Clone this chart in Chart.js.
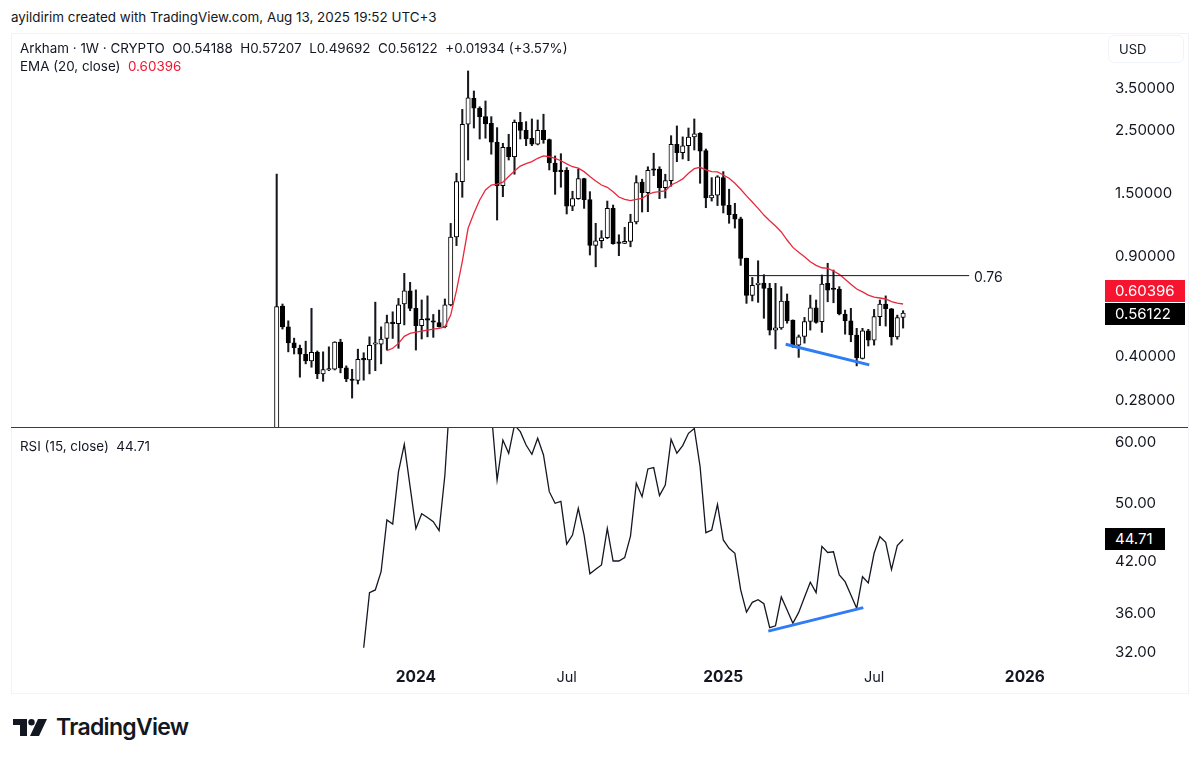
<!DOCTYPE html>
<html>
<head>
<meta charset="utf-8">
<title>Arkham 1W</title>
<script src="https://cdn.jsdelivr.net/npm/chart.js@4"></script>
<style>
  html, body { margin:0; padding:0; background:#fff; }
  body { width:1200px; height:761px; position:relative; overflow:hidden; font-family:Inter, sans-serif; color:#131722; }
  .abs { position:absolute; white-space:pre; }
  canvas { position:absolute; left:11px; }
  #panel { position:absolute; left:11px; top:33px; width:1176px; height:659px; border:1px solid #f0f3fa; box-sizing:content-box; }
  #sep { position:absolute; left:11px; top:427px; width:1177px; height:1px; background:#3a3d45; z-index:3; }
  #usd { position:absolute; left:1108px; top:35px; width:76px; height:28px; border:1px solid #f0f3fa; border-radius:6px; box-sizing:border-box; font-size:13px; line-height:27px; padding-left:10px; }
  .tag { position:absolute; left:1105px; width:80px; height:22px; line-height:22px; color:#fff; font-size:15px; padding-left:10px; box-sizing:border-box; }
</style>
</head>
<body>
<div id="panel"></div>
<canvas id="priceChart" width="1177" height="393" style="top:34px"></canvas>
<canvas id="rsiChart" width="1177" height="266" style="top:427px"></canvas>
<div id="sep"></div>

<div class="abs" style="left:11px;top:9px;font-size:13.4px">ayildirim created with TradingView.com, Aug 13, 2025 19:52 UTC+3</div>
<div class="abs" style="left:20px;top:40px;font-size:13.4px">Arkham · 1W · CRYPTO  O0.54188  H0.57207  L0.49692  C0.56122  +0.01934 (+3.57%)</div>
<div class="abs" style="left:20px;top:58px;font-size:13.4px">EMA (20, close)  <span style="color:#f0142f">0.60396</span></div>
<div class="abs" style="left:20px;top:438px;font-size:13.4px">RSI (15, close)  44.71</div>
<div id="usd">USD</div>
<div class="abs" style="left:974px;top:268px;font-size:14px">0.76</div>
<div class="tag" style="top:280px;background:#f7142f">0.60396</div>
<div class="tag" style="top:303px;background:#000">0.56122</div>
<div class="tag" style="top:528px;background:#000;width:60px">44.71</div>

<svg class="abs" style="left:13px;top:719px" width="34" height="17" viewBox="0 0 34 17">
  <path d="M0 0H14V17H7V6H0Z M25 0H34L26 17H17Z" fill="#131722"/>
  <circle cx="18.5" cy="3.2" r="3.2" fill="#131722"/>
</svg>
<div class="abs" style="left:56px;top:713px;font-size:23px;font-weight:600;letter-spacing:-0.7px;color:#131722">TradingView</div>

<script>
// Arkham ukeskerter, lest av bildet. Indeks 0 = uke 17. juli 2023.
const opens = [
  0.20,0.594,0.502,0.441,0.423,0.402,0.381,0.408,0.343,0.354,
  0.356,0.444,0.360,0.329,0.325,0.387,0.384,0.436,0.436,0.457,
  0.521,0.515,0.604,0.672,0.583,0.507,0.534,0.526,0.520,0.502,
  0.600,1.039,1.626,2.589,3.194,2.946,2.753,2.609,2.237,1.574,
  2.149,1.99,2.631,2.465,2.312,2.201,2.465,2.285,1.892,1.784,
  1.784,1.333,1.417,1.667,1.407,0.971,1.008,1.033,1.31,0.992,
  0.987,1.003,1.173,1.622,1.487,1.798,1.802,1.55,1.64,2.201,
  2.057,2.177,2.337,2.405,2.09,1.426,1.458,1.68,1.343,1.249,
  1.204,0.875,0.648,0.705,0.715,0.685,0.489,0.498,0.619,0.53,
  0.433,0.465,0.524,0.585,0.523,0.714,0.685,0.681,0.555,0.527,
  0.47,0.389,0.486,0.451,0.545,0.604,0.581,0.463,0.54188];
const highs = [
  1.731,0.604,0.527,0.458,0.433,0.447,0.583,0.413,0.410,0.427,
  0.445,0.454,0.366,0.356,0.419,0.407,0.463,0.613,0.502,0.552,
  0.567,0.632,0.774,0.720,0.677,0.624,0.645,0.555,0.575,0.629,
  1.160,1.741,2.92,3.985,3.389,2.984,3.126,2.753,2.519,2.219,
  2.387,2.68,2.852,2.644,2.702,2.68,2.808,2.297,2.003,2.04,
  1.823,1.505,1.8,1.672,1.5,1.161,1.094,1.39,1.346,1.058,
  1.124,1.249,1.707,1.659,1.835,2.047,1.835,1.727,2.36,2.554,
  2.337,2.511,2.702,2.418,2.119,1.68,1.707,1.764,1.53,1.365,
  1.22,0.876,0.749,0.857,0.766,0.714,0.714,0.695,0.655,0.531,
  0.47,0.542,0.649,0.624,0.764,0.84,0.795,0.695,0.575,0.583,
  0.496,0.496,0.492,0.578,0.624,0.645,0.583,0.552,0.57207];
const lows = [
  0.15,0.493,0.410,0.403,0.334,0.372,0.362,0.330,0.323,0.352,
  0.354,0.346,0.322,0.282,0.316,0.326,0.343,0.352,0.372,0.416,
  0.457,0.422,0.510,0.572,0.416,0.455,0.463,0.461,0.501,0.498,
  0.595,0.969,1.433,1.938,2.511,2.297,2.312,2.031,1.192,1.44,
  1.938,1.727,2.297,2.177,2.177,2.19,2.219,1.788,1.468,1.555,
  1.252,1.286,1.41,1.31,0.898,0.816,0.951,1.026,0.98,0.893,
  0.985,0.96,1.155,1.272,1.275,1.708,1.417,1.425,1.567,1.912,
  1.954,1.927,2.102,1.605,1.317,1.39,1.34,1.262,1.161,1.117,
  0.826,0.607,0.619,0.612,0.538,0.47,0.42,0.492,0.517,0.425,
  0.392,0.44,0.489,0.517,0.48,0.615,0.61,0.553,0.473,0.445,
  0.366,0.387,0.43,0.433,0.507,0.505,0.433,0.454,0.49692];
const closes = [
  0.591,0.502,0.441,0.424,0.402,0.381,0.408,0.343,0.355,0.356,
  0.444,0.360,0.329,0.325,0.386,0.384,0.432,0.438,0.455,0.520,
  0.515,0.600,0.672,0.583,0.507,0.534,0.530,0.521,0.502,0.600,
  1.039,1.626,2.589,3.208,2.946,2.753,2.595,2.237,1.574,2.149,
  1.99,2.631,2.465,2.297,2.201,2.465,2.285,1.892,1.764,1.764,
  1.333,1.417,1.667,1.407,0.971,1.008,1.033,1.31,0.985,0.987,
  1.003,1.173,1.613,1.487,1.784,1.784,1.55,1.64,2.201,2.057,
  2.172,2.335,2.398,2.08,1.426,1.458,1.69,1.343,1.244,1.2,
  0.873,0.648,0.702,0.716,0.685,0.489,0.498,0.619,0.527,0.431,
  0.463,0.524,0.585,0.52,0.709,0.675,0.679,0.557,0.527,0.47,
  0.391,0.486,0.451,0.545,0.604,0.581,0.463,0.541,0.56122];

// EMA starter på uke 19, RSI på uke 15.
const emaStart = 19;
const emaValues = [
  0.414,0.422,0.439,0.465,0.476,0.481,0.485,0.489,0.493,0.496,0.502,
  0.552,0.674,0.852,1.115,1.259,1.402,1.52,1.583,1.594,1.619,
  1.696,1.774,1.845,1.881,1.912,1.965,2.003,1.99,1.965,1.927,
  1.878,1.835,1.815,1.764,1.696,1.636,1.583,1.554,1.50,1.436,
  1.41,1.394,1.41,1.42,1.466,1.492,1.50,1.508,1.583,1.619,
  1.663,1.74,1.807,1.827,1.788,1.764,1.76,1.717,1.672,1.605,
  1.53,1.449,1.38,1.31,1.241,1.185,1.135,1.082,1.014,0.955,
  0.918,0.886,0.85,0.826,0.81,0.806,0.789,0.768,0.738,0.709,
  0.682,0.666,0.649,0.638,0.634,0.629,0.616,0.608,0.60396];
const rsiStart = 15;
const rsiValues = [
  32.35,38.14,38.45,40.60,47.39,46.82,54.74,59.41,52.34,46.17,
  48.28,47.73,47.15,45.90,54.2,70.8,78,82,85,80,
  76,74,65.5,53.40,60.18,57.84,62.94,61.69,59.29,57.66,
  60.49,57.54,51.57,49.81,50.10,44.10,45.30,49.07,45.30,40.36,
  40.90,41.43,46.22,41.92,41.92,42.34,45.16,52.88,50.80,55.19,
  55.41,50.96,52.60,60.3,57.84,59.17,61.39,62.3,55.57,45.62,
  45.99,49.65,44.64,43.54,42.90,38.45,35.99,37.05,37.35,36.90,
  34.35,34.55,37.65,36.21,34.80,35.96,37.62,39.34,38.14,43.80,
  43.00,43.10,40.20,39.41,37.87,36.40,40.00,39.26,42.90,45.07,
  44.33,40.85,43.89,44.71];

const priceTicks = [3.5,2.5,1.5,0.9,0.4,0.28];
const rsiTicks = [60,50,42,36,32];
const timeTickWeeks = [24,50,77,103,129];
const timeTickLabels = ["2024","Jul","2025","Jul","2026"];

// Tegnede linjer: 0.76-nivået og de to blå trendlinjene.
const levelWeeks = [81.2,119.4];
const levelPrices = [0.76,0.76];
const priceTrendWeeks = [87.76,102.17];
const priceTrendValues = [0.436,0.369];
const rsiTrendWeeks = [84.76,101.14];
const rsiTrendValues = [34.0,36.47];

const INK = "#131722", RED = "#e8283c", BLUE = "#2e7cf6";
const WEEK_MIN = -45.81, WEEK_MAX = 141.95;

Chart.defaults.font.family = "Inter, sans-serif";
Chart.defaults.color = INK;
Chart.defaults.animation = false;

const pts = (xs, ys) => ys.map((y,i) => ({ x:xs[i], y }));
const from = (start, ys) => ys.map((y,i) => ({ x:start+i, y }));

function yAxis(min, max, ticks, fmt, labelOffset) {
  return {
    type:"logarithmic", position:"right", min, max, bounds:"data",
    grid:{ display:false }, border:{ display:false },
    afterBuildTicks(s){ s.ticks = ticks.map((value) => ({ value, major:false })); },
    afterFit(s){ s.width = 88; s.paddingTop = 0; s.paddingBottom = 0; },
    ticks:{ callback:(v) => Number(v).toFixed(fmt), font:{ size:15 }, color:INK, padding:7, labelOffset, autoSkip:false, maxRotation:0 },
  };
}
function line(data, color, width) {
  return { type:"line", data, borderColor:color, borderWidth:width, pointRadius:0, tension:0, order:1, fill:false };
}

const idx = closes.map((_,i) => i);
new Chart(document.getElementById("priceChart"), {
  type:"bar",
  data:{ datasets:[
    line(pts(priceTrendWeeks, priceTrendValues), BLUE, 3),
    line(pts(levelWeeks, levelPrices), INK, 1),
    line(from(emaStart, emaValues), RED, 1.3),
    { label:"body", data:idx.map((i) => ({ x:i, y:[opens[i],closes[i]] })), barThickness:4.4, minBarLength:1.5,
      borderWidth:1, borderColor:"#000", borderSkipped:false, grouped:false, order:2,
      backgroundColor:idx.map((i) => closes[i] >= opens[i] ? "#fff" : "#000") },
    { label:"wick", data:idx.map((i) => ({ x:i, y:[lows[i],highs[i]] })), barThickness:1.4,
      backgroundColor:"#16181d", grouped:false, order:3 },
  ]},
  options:{
    responsive:false,
    layout:{ padding:0 },
    plugins:{ legend:{ display:false }, tooltip:{ enabled:false } },
    scales:{
      x:{ type:"linear", min:WEEK_MIN, max:WEEK_MAX, offset:false, display:false, grid:{ display:false, offset:false } },
      y:yAxis(0.2231, 5.376, priceTicks, 5, 1.5),
    },
  },
});

new Chart(document.getElementById("rsiChart"), {
  type:"line",
  data:{ datasets:[
    line(pts(rsiTrendWeeks, rsiTrendValues), BLUE, 3),
    line(from(rsiStart, rsiValues), INK, 1.3),
  ]},
  options:{
    responsive:false,
    layout:{ padding:0 },
    plugins:{ legend:{ display:false }, tooltip:{ enabled:false } },
    scales:{
      x:{ type:"linear", min:WEEK_MIN, max:WEEK_MAX, offset:false, grid:{ display:false }, border:{ display:false },
        afterBuildTicks(s){ s.ticks = timeTickWeeks.map((value) => ({ value })); },
        afterFit(s){ s.height = 33; s.paddingLeft = 0; s.paddingRight = 0; },
        ticks:{ autoSkip:false, maxRotation:0, padding:0.5, color:INK,
          callback:(v) => timeTickLabels[timeTickWeeks.indexOf(v)],
          font:(c) => (c.tick && timeTickLabels[timeTickWeeks.indexOf(c.tick.value)] === "Jul")
            ? { size:14.5 } : { size:15.5, weight:"700" } } },
      y:yAxis(31.19, 62.56, rsiTicks, 2, 1),
    },
  },
});
</script>
</body>
</html>
